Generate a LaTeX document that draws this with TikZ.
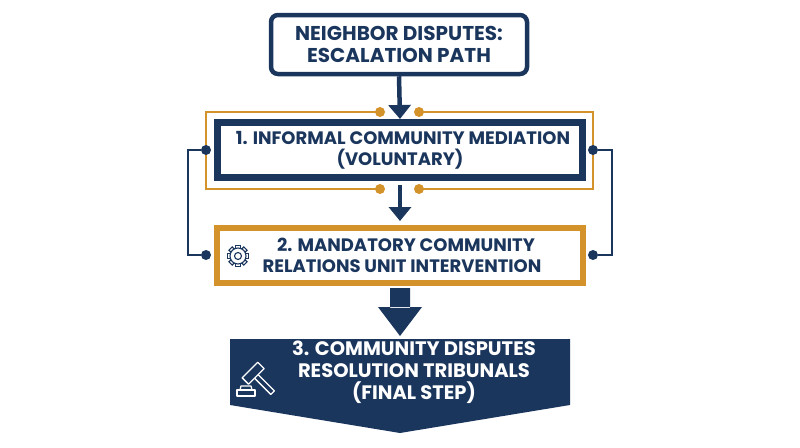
\documentclass[tikz,border=0pt]{standalone}
\usepackage{fontspec}
\setmainfont{Poppins}
\usetikzlibrary{arrows.meta}
\definecolor{navy}{HTML}{1B365D}
\definecolor{gold}{HTML}{D4922A}
\begin{document}
\begin{tikzpicture}[x=1pt,y=-1pt,
  txt/.style={font=\fontsize{18}{21}\selectfont\bfseries, align=center, text=navy, inner sep=0pt},
  dot/.style={circle, fill=#1, inner sep=0pt, minimum size=10pt},
  arr/.style={navy, line width=4.5pt, -{Triangle[width=22pt,length=14pt]}},
  side/.style={navy, line width=1.4pt}]
\useasboundingbox (0,0) rectangle (800,447);
% title
\node[draw=navy, line width=4.5pt, rounded corners=7pt, minimum width=256pt, minimum height=59pt, txt, font=\fontsize{20}{22}\selectfont\bfseries] (title) at (399,44.5) {NEIGHBOR DISPUTES:\\ESCALATION PATH};
% box 1 with orange frame
\draw[gold, line width=1.4pt] (380,112) -- (206,112) -- (206,189) -- (380,189);
\draw[gold, line width=1.4pt] (419,112) -- (593,112) -- (593,189) -- (419,189);
\node[dot=gold] (g1) at (380,112) {};
\node[dot=gold] (g2) at (419,112) {};
\node[dot=gold] (g3) at (380,189) {};
\node[dot=gold] (g4) at (419,189) {};
\node[draw=navy, line width=7pt, minimum width=365pt, minimum height=55pt, txt] (b1) at (400,150) {\hspace*{6pt}1. INFORMAL COMMUNITY MEDIATION\\(VOLUNTARY)};
% box 2
\node[draw=gold, line width=6pt, minimum width=366pt, minimum height=55pt, txt] (b2) at (400,255.5) {\hspace*{12pt}2. MANDATORY COMMUNITY\\\hspace*{4pt}RELATIONS UNIT INTERVENTION};
% gear
\begin{scope}[shift={(238,256)}]
\foreach \a in {0,45,...,315}{\draw[navy, line width=1.1pt, rotate=\a] (-2.3,-10.5) rectangle (2.3,-7.5);}
\draw[navy, line width=1.1pt, fill=white] (0,0) circle (8);
\draw[navy, line width=1.1pt] (0,0) circle (3.5);
\end{scope}
% side connectors
\node[dot=navy] (l1) at (206,150) {};
\node[dot=navy] (l2) at (206,255) {};
\node[dot=navy] (r1) at (593,150) {};
\node[dot=navy] (r2) at (593,255) {};
\draw[side] (l1) -- (188,150) -- (188,255) -- (l2);
\draw[side] (r1) -- (612,150) -- (612,255) -- (r2);
% arrows
\draw[arr] (title.south) -- (400,119);
\draw[arr] (400,185) -- (400,221);
% banner
\fill[navy] (230,339) -- (570,339) -- (570,405) -- (400,433) -- (230,405) -- cycle;
\node[font=\fontsize{19.5}{22}\selectfont\bfseries, align=center, text=white] (b3) at (414,372) {3. COMMUNITY DISPUTES\\RESOLUTION TRIBUNALS\\(FINAL STEP)};
\fill[navy] (390,288) rectangle (410,308) (378,307) -- (422,307) -- (400,336) -- cycle;
% gavel
\begin{scope}[shift={(262,375)}, white, line width=1.3pt, line join=round]
\draw[rotate=45] (-16,-12) rectangle (6,-3);
\draw[rotate=45] (-7.5,-3) -- (-7.5,20) -- (-2.5,20) -- (-2.5,-3);
\draw (-25,15) rectangle (-7,21);
\draw (-22,15) -- (-21,11) -- (-11,11) -- (-10,15);
\end{scope}
\end{tikzpicture}
\end{document}
